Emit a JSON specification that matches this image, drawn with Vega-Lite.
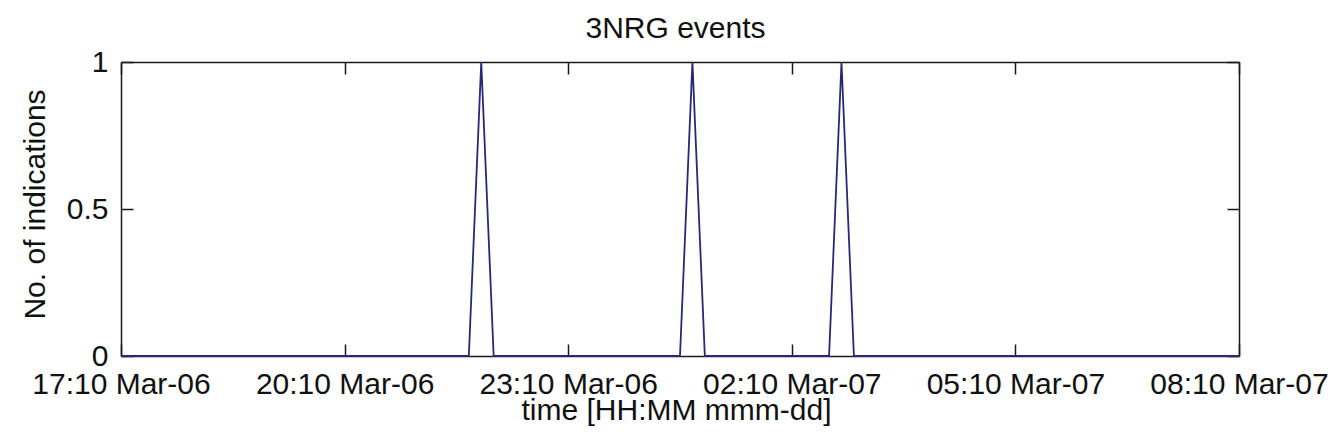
{
  "$schema": "https://vega.github.io/schema/vega-lite/v6.json",
  "width": 1118,
  "height": 294,
  "autosize": "none",
  "padding": {"left": 121, "top": 62, "right": 96, "bottom": 92},
  "background": "white",
  "data": {
    "values": [
      {"time": "2010-03-06T17:10:00", "count": 0},
      {"time": "2010-03-06T21:50:00", "count": 0},
      {"time": "2010-03-06T22:00:00", "count": 1},
      {"time": "2010-03-06T22:10:00", "count": 0},
      {"time": "2010-03-07T00:40:00", "count": 0},
      {"time": "2010-03-07T00:50:00", "count": 1},
      {"time": "2010-03-07T01:00:00", "count": 0},
      {"time": "2010-03-07T02:40:00", "count": 0},
      {"time": "2010-03-07T02:50:00", "count": 1},
      {"time": "2010-03-07T03:00:00", "count": 0},
      {"time": "2010-03-07T08:10:00", "count": 0}
    ]
  },
  "layer": [
    {
      "mark": {"type": "line", "color": "#28287a", "strokeWidth": 1.8},
      "encoding": {
        "x": {
          "field": "time",
          "type": "temporal",
          "scale": {
            "domain": [
              {"year": 2010, "month": 3, "date": 6, "hours": 17, "minutes": 10},
              {"year": 2010, "month": 3, "date": 7, "hours": 8, "minutes": 10}
            ],
            "nice": false
          },
          "axis": {
            "orient": "bottom",
            "title": "time [HH:MM mmm-dd]",
            "format": "%H:%M %b-%d",
            "values": [
              {"year": 2010, "month": 3, "date": 6, "hours": 17, "minutes": 10},
              {"year": 2010, "month": 3, "date": 6, "hours": 20, "minutes": 10},
              {"year": 2010, "month": 3, "date": 6, "hours": 23, "minutes": 10},
              {"year": 2010, "month": 3, "date": 7, "hours": 2, "minutes": 10},
              {"year": 2010, "month": 3, "date": 7, "hours": 5, "minutes": 10},
              {"year": 2010, "month": 3, "date": 7, "hours": 8, "minutes": 10}
            ],
            "labelPadding": 25,
            "titleX": 555,
            "titleY": 63,
            "titleAlign": "center",
            "titleBaseline": "alphabetic",
            "titleAnchor": null
          }
        },
        "y": {
          "field": "count",
          "type": "quantitative",
          "scale": {"domain": [0, 1], "nice": false},
          "axis": {
            "orient": "left",
            "title": "No. of indications",
            "values": [0, 0.5, 1],
            "format": "~g",
            "labelPadding": 25,
            "titleAngle": -90,
            "titleX": -77,
            "titleY": 142,
            "titleAlign": "center",
            "titleBaseline": "alphabetic"
          }
        }
      }
    },
    {
      "mark": {"type": "line", "strokeOpacity": 0},
      "encoding": {
        "x": {
          "field": "time",
          "type": "temporal",
          "axis": {
            "orient": "top",
            "title": "3NRG events",
            "titleX": 554,
            "titleY": -25,
            "titleAlign": "center",
            "titleBaseline": "alphabetic",
            "titleAnchor": null,
            "labels": false,
            "values": [
              {"year": 2010, "month": 3, "date": 6, "hours": 17, "minutes": 10},
              {"year": 2010, "month": 3, "date": 6, "hours": 20, "minutes": 10},
              {"year": 2010, "month": 3, "date": 6, "hours": 23, "minutes": 10},
              {"year": 2010, "month": 3, "date": 7, "hours": 2, "minutes": 10},
              {"year": 2010, "month": 3, "date": 7, "hours": 5, "minutes": 10},
              {"year": 2010, "month": 3, "date": 7, "hours": 8, "minutes": 10}
            ]
          }
        },
        "y": {
          "field": "count",
          "type": "quantitative",
          "axis": {
            "orient": "right",
            "title": null,
            "labels": false,
            "values": [0, 0.5, 1]
          }
        }
      }
    }
  ],
  "resolve": {"axis": {"x": "independent", "y": "independent"}},
  "config": {
    "view": {"stroke": null},
    "axis": {
      "grid": false,
      "minExtent": 0,
      "maxExtent": 0,
      "domainColor": "#1a1a1a",
      "domainWidth": 1.5,
      "tickColor": "#1a1a1a",
      "tickWidth": 1.5,
      "tickSize": -12,
      "labelFont": "Liberation Sans",
      "labelFontSize": 30,
      "labelColor": "#111111",
      "labelFlush": false,
      "labelOverlap": false,
      "labelBound": false,
      "titleFont": "Liberation Sans",
      "titleFontSize": 30,
      "titleFontWeight": "normal",
      "titleColor": "#111111"
    }
  }
}
